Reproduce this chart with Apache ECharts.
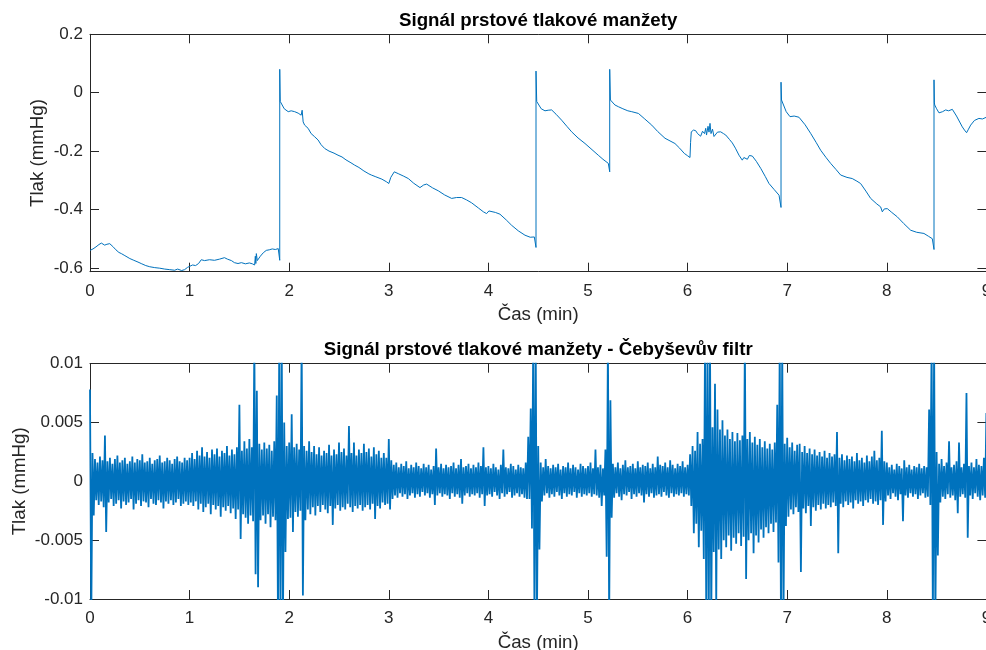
<!DOCTYPE html>
<html>
<head>
<meta charset="utf-8">
<script src="https://cdn.jsdelivr.net/npm/echarts@6/dist/echarts.min.js"></script>
<style>
html,body{margin:0;padding:0;background:#fff;}
#chart{width:986px;height:650px;}
</style>
</head>
<body>
<div id="chart"></div>
<script>
// ---------- Top plot: raw finger cuff pressure signal ----------
const topTime = [0,0.03,0.06,0.09,0.114,0.13,0.147,0.17,0.198,0.23,0.26,0.29,0.315,0.35,0.40,0.44,0.482,0.52,0.56,0.60,0.65,0.70,0.75,0.80,0.85,0.88,0.92,0.95,0.98,1.0,1.03,1.06,1.09,1.117,1.15,1.20,1.25,1.30,1.35,1.38,1.42,1.45,1.486,1.52,1.56,1.60,1.63,1.653,1.66,1.665,1.67,1.68,1.69,1.71,1.74,1.77,1.80,1.83,1.86,1.89,1.905,1.905,1.91,1.915,1.95,1.99,2.02,2.055,2.09,2.12,2.13,2.14,2.155,2.19,2.22,2.256,2.29,2.32,2.356,2.40,2.45,2.49,2.53,2.57,2.62,2.657,2.70,2.75,2.80,2.825,2.87,2.93,2.976,3.0,3.02,3.055,3.10,3.15,3.196,3.25,3.313,3.35,3.38,3.44,3.497,3.56,3.631,3.68,3.731,3.78,3.831,3.90,3.95,3.982,4.005,4.025,4.07,4.116,4.18,4.233,4.30,4.367,4.42,4.461,4.478,4.478,4.485,4.491,4.53,4.568,4.60,4.635,4.68,4.735,4.79,4.836,4.90,4.970,5.03,5.103,5.15,5.204,5.218,5.218,5.225,5.231,5.27,5.305,5.35,5.40,5.439,5.506,5.57,5.640,5.70,5.773,5.873,5.92,5.967,6.00,6.024,6.03,6.037,6.06,6.081,6.10,6.131,6.15,6.17,6.182,6.19,6.205,6.215,6.225,6.235,6.25,6.265,6.282,6.30,6.332,6.36,6.383,6.42,6.449,6.48,6.516,6.549,6.565,6.583,6.60,6.62,6.650,6.69,6.734,6.78,6.817,6.87,6.918,6.938,6.938,6.943,6.948,6.99,7.028,7.07,7.118,7.18,7.235,7.29,7.336,7.39,7.436,7.49,7.537,7.60,7.653,7.70,7.737,7.79,7.838,7.90,7.938,7.955,7.975,8.005,8.05,8.105,8.17,8.240,8.30,8.373,8.42,8.457,8.474,8.474,8.478,8.481,8.50,8.524,8.56,8.591,8.62,8.658,8.70,8.758,8.78,8.801,8.82,8.842,8.88,8.925,8.96,9.0];
const topValue = [-0.540,-0.535,-0.528,-0.520,-0.515,-0.519,-0.522,-0.519,-0.517,-0.527,-0.538,-0.547,-0.551,-0.558,-0.568,-0.574,-0.580,-0.586,-0.592,-0.596,-0.599,-0.601,-0.604,-0.606,-0.608,-0.604,-0.609,-0.606,-0.598,-0.594,-0.590,-0.592,-0.585,-0.572,-0.575,-0.572,-0.574,-0.570,-0.565,-0.570,-0.575,-0.582,-0.585,-0.582,-0.586,-0.583,-0.586,-0.590,-0.560,-0.585,-0.551,-0.575,-0.580,-0.560,-0.548,-0.540,-0.538,-0.535,-0.537,-0.534,-0.574,0.080,-0.030,-0.036,-0.055,-0.065,-0.062,-0.065,-0.070,-0.077,-0.060,-0.100,-0.111,-0.122,-0.140,-0.151,-0.162,-0.178,-0.191,-0.200,-0.207,-0.214,-0.220,-0.230,-0.240,-0.248,-0.256,-0.268,-0.278,-0.282,-0.288,-0.296,-0.305,-0.311,-0.290,-0.271,-0.278,-0.286,-0.294,-0.310,-0.325,-0.316,-0.313,-0.326,-0.336,-0.350,-0.362,-0.359,-0.359,-0.367,-0.377,-0.395,-0.408,-0.414,-0.405,-0.402,-0.410,-0.416,-0.436,-0.454,-0.473,-0.488,-0.495,-0.494,-0.530,0.074,-0.030,-0.036,-0.055,-0.062,-0.060,-0.059,-0.074,-0.094,-0.116,-0.134,-0.155,-0.174,-0.192,-0.214,-0.228,-0.242,-0.271,0.080,-0.025,-0.031,-0.042,-0.048,-0.055,-0.062,-0.065,-0.071,-0.090,-0.111,-0.133,-0.156,-0.174,-0.190,-0.208,-0.216,-0.222,-0.170,-0.134,-0.128,-0.130,-0.140,-0.149,-0.132,-0.140,-0.122,-0.145,-0.115,-0.135,-0.105,-0.140,-0.125,-0.150,-0.151,-0.135,-0.134,-0.140,-0.145,-0.160,-0.172,-0.190,-0.214,-0.231,-0.222,-0.220,-0.228,-0.215,-0.217,-0.235,-0.259,-0.287,-0.311,-0.332,-0.351,-0.393,0.036,-0.025,-0.031,-0.065,-0.082,-0.080,-0.084,-0.110,-0.139,-0.170,-0.197,-0.222,-0.242,-0.263,-0.282,-0.290,-0.294,-0.303,-0.311,-0.337,-0.362,-0.381,-0.391,-0.408,-0.398,-0.397,-0.410,-0.425,-0.448,-0.471,-0.478,-0.482,-0.492,-0.500,-0.537,0.044,-0.035,-0.042,-0.055,-0.069,-0.065,-0.059,-0.062,-0.057,-0.080,-0.117,-0.128,-0.137,-0.125,-0.111,-0.095,-0.088,-0.090,-0.084];
const topYTicks = [-0.6, -0.4, -0.2, 0, 0.2];

// ---------- Bottom plot: Chebyshev filtered signal ----------
// envelope of the filtered signal read per 0.025 min bin, in units of 0.001 mmHg
const filtStepMin = 0.025;
const filtUnit = 0.001;
const filtHigh = [
 7.8,2.4,1.9,1.6,2.1,1.8,3.9,1.7,2.0,1.5, 1.9,2.2,1.6,1.8,2.0,1.5,1.7,2.1,1.6,1.9, 1.8,2.3,1.6,1.7,2.0,1.5,1.8,1.9,2.2,1.6, 1.7,2.0,1.8,1.5,1.9,2.1,1.7,1.6,2.0,1.8,
 2.0,2.4,1.9,2.6,2.2,2.9,2.1,2.5,2.0,2.7, 2.3,2.8,2.1,2.6,2.4,3.0,2.2,2.7,2.3,2.9, 6.5,2.6,3.4,2.8,3.6,2.9,12,7.7,3.2,2.7, 3.3,2.8,3.1,2.6,3.4,7.3,12,12,5.0,3.0,
 3.3,5.7,2.9,3.2,2.7,12,3.0,2.6,3.4,2.5, 3.0,2.3,2.9,2.2,2.6,2.4,3.1,2.2,2.7,2.3, 3.3,2.5,2.8,2.2,4.7,2.4,3.3,2.2,2.7,2.4, 3.2,2.5,2.8,2.1,2.9,2.3,2.6,2.0,2.4,2.0,
 3.6,1.8,1.4,1.6,1.2,1.5,1.3,1.7,1.1,1.4, 1.2,1.6,1.3,1.1,1.5,1.2,1.4,1.0,1.3,2.8, 1.2,1.5,1.1,1.4,1.2,1.3,1.6,1.1,1.4,1.9, 1.2,1.3,1.5,1.1,1.4,1.2,1.6,1.3,2.9,1.2,
 1.3,1.1,1.5,1.2,1.0,1.4,2.7,1.2,1.1,1.5, 1.3,1.0,1.4,1.2,1.1,1.6,3.8,6.2,12,12, 3.0,1.6,1.2,1.9,1.3,1.1,1.4,1.2,1.5,1.0, 1.3,1.2,1.6,1.1,1.4,1.2,1.0,1.5,1.3,1.1,
 1.3,1.6,1.1,2.7,1.2,1.4,1.1,2.7,12,6.9, 1.5,1.2,1.6,1.1,1.4,1.8,1.2,1.3,1.5,1.1, 1.7,1.2,1.4,1.3,1.6,1.1,1.5,1.2,2.1,1.4, 1.3,1.6,1.2,1.8,1.4,1.1,1.5,1.3,1.7,1.2,
 1.4,2.3,3.0,2.6,4.2,3.2,3.6,12,12,12, 4.6,8.3,6.1,4.4,5.2,3.9,4.4,3.6,4.2,3.4, 4.1,3.5,3.9,12,3.6,4.2,3.3,3.8,3.1,3.6, 2.9,3.4,2.8,3.2,2.7,3.3,6.5,12,12,3.2,
 3.7,2.9,3.3,2.6,3.1,3.2,2.5,3.0,2.4,2.8, 2.3,2.7,2.2,2.5,2.1,2.6,2.0,2.4,2.1,2.3, 4.2,2.0,2.3,1.8,2.2,1.9,2.1,1.7,2.4,1.8, 2.0,1.6,2.2,1.7,2.1,2.6,1.8,2.0,4.3,1.7,
 1.6,1.2,1.4,1.0,1.5,1.3,1.1,1.8,1.2,1.4, 1.0,1.3,1.2,1.5,1.1,1.3,1.2,6.1,12,12, 2.5,1.5,1.9,1.3,1.6,3.4,1.2,1.4,1.7,3.3, 1.2,1.5,7.5,1.3,1.6,1.2,1.9,1.4,1.3,2.0,
 5.8
];
const filtLow = [
 -12,-2.9,-1.6,-2.0,-1.7,-2.2,-4.3,-1.8,-1.5,-2.1, -1.9,-1.6,-2.3,-1.7,-2.0,-1.8,-1.5,-2.4,-1.9,-1.6, -2.1,-1.7,-1.8,-2.2,-1.5,-1.9,-2.0,-1.6,-1.8,-2.3, -1.7,-1.9,-1.6,-2.0,-1.8,-1.5,-2.1,-1.9,-1.7,-2.0,
 -1.8,-2.1,-1.7,-2.4,-1.9,-2.6,-2.2,-1.9,-2.8,-2.0, -2.4,-2.1,-3.0,-2.2,-2.5,-2.1,-2.7,-2.3,-3.2,-2.4, -4.9,-2.8,-3.1,-3.6,-2.9,-3.4,-7.9,-9.0,-3.3,-2.9, -3.6,-2.8,-3.9,-3.0,-3.3,-12,-12,-12,-6.0,-3.2,
 -3.1,-4.3,-2.6,-3.0,-2.5,-9.7,-3.3,-2.4,-2.8,-2.2, -2.9,-2.1,-2.6,-2.0,-2.4,-2.7,-2.1,-3.7,-2.3,-2.0, -2.5,-2.2,-2.4,-1.9,-2.2,-2.6,-2.1,-2.3,-2.0,-2.5, -2.2,-2.0,-2.4,-1.9,-3.2,-2.1,-2.3,-1.8,-2.0,-1.9,
 -2.4,-1.5,-1.2,-1.4,-1.0,-1.3,-1.1,-1.5,-1.2,-1.0, -1.4,-1.1,-1.3,-0.9,-1.2,-1.0,-1.4,-1.1,-2.0,-1.2, -1.0,-1.3,-1.1,-1.2,-1.5,-1.0,-1.3,-1.1,-1.4,-1.9, -1.2,-1.0,-1.3,-1.1,-1.2,-1.0,-1.4,-1.1,-2.1,-1.2,
 -1.1,-1.3,-0.9,-1.2,-1.5,-1.0,-1.3,-1.1,-0.9,-1.4, -1.2,-1.0,-1.3,-1.1,-1.4,-1.5,-1.5,-4.0,-12,-12, -5.8,-1.7,-1.2,-1.0,-1.4,-1.1,-1.3,-0.9,-1.2,-1.5, -1.0,-1.3,-1.1,-1.2,-0.9,-1.4,-1.0,-1.3,-1.1,-1.2,
 -1.0,-1.3,-1.1,-1.2,-1.4,-2.1,-1.2,-6.4,-12,-3.1, -1.4,-1.0,-1.3,-1.6,-1.1,-1.2,-0.9,-1.5,-1.1,-1.3, -1.0,-1.2,-1.8,-1.1,-1.3,-1.0,-1.4,-1.2,-1.1,-1.3, -0.9,-1.2,-1.4,-1.0,-1.3,-1.1,-1.2,-1.0,-1.3,-1.1,
 -1.2,-2.1,-4.4,-3.6,-5.6,-4.2,-6.6,-12,-12,-12, -6.0,-10.5,-5.8,-6.6,-5.0,-5.6,-4.6,-5.9,-4.8,-5.3, -4.4,-5.5,-4.7,-8.3,-5.0,-4.4,-6.1,-4.6,-5.2,-4.1, -4.8,-3.9,-4.4,-3.6,-4.3,-3.5,-6.9,-12,-12,-3.8,
 -3.0,-2.4,-2.8,-2.2,-2.6,-7.7,-2.3,-2.7,-2.1,-3.8, -2.2,-2.5,-2.0,-2.4,-1.9,-2.3,-2.0,-2.2,-1.8,-2.1, -6.1,-1.9,-2.2,-1.7,-2.0,-1.8,-2.3,-1.6,-1.9,-1.7, -2.1,-1.6,-1.8,-1.5,-1.9,-1.7,-2.0,-1.6,-3.7,-1.7,
 -1.2,-1.5,-1.0,-1.3,-1.6,-1.1,-3.4,-1.2,-1.4,-1.0, -1.3,-1.1,-1.5,-1.2,-1.0,-1.4,-1.3,-2.0,-12,-12, -6.3,-1.8,-1.3,-1.5,-1.1,-1.4,-1.2,-1.6,-2.7,-1.3, -1.1,-1.4,-4.8,-1.2,-1.5,-1.0,-1.3,-1.6,-1.2,-1.4,
 -3.8
];
const bottomYTicks = [-0.01, -0.005, 0, 0.005, 0.01];
const xTicks = [0,1,2,3,4,5,6,7,8,9];

const titles = ['Signál prstové tlakové manžety', 'Signál prstové tlakové manžety - Čebyševův filtr'];
const xName = 'Čas (min)';
const yName = 'Tlak (mmHg)';

// ---------- build ----------
const FONT = '"Liberation Sans", Arial, Helvetica, sans-serif';
const AX = '#262626';
const LINE = '#0072BD';

const topData = topTime.map((t, i) => [t, topValue[i]]);
const bottomData = [];
for (let i = 0; i < filtHigh.length; i++) {
  const t = i * filtStepMin;
  bottomData.push([t, filtHigh[i] * filtUnit]);
  if (i < filtLow.length) bottomData.push([t + filtStepMin / 2, filtLow[i] * filtUnit]);
}

const grids = [
  {left: 90, top: 34.3, width: 896.4, height: 237.4, outerBoundsMode: 'none', containLabel: false},
  {left: 90, top: 363.7, width: 896.4, height: 235.3, outerBoundsMode: 'none', containLabel: false}
];

function xAx(g, pos) {
  const main = pos === 'bottom';
  return {
    gridIndex: g, type: 'value', position: pos, min: xTicks[0], max: xTicks[xTicks.length - 1], interval: 1,
    name: main ? xName : '', nameLocation: 'middle', nameGap: 34, nameMoveOverlap: false,
    nameTextStyle: {fontFamily: FONT, fontSize: 18.7, color: AX, verticalAlign: 'top'},
    axisLine: {show: true, onZero: false, lineStyle: {color: AX, width: 1}},
    axisTick: {show: true, inside: true, length: 9, lineStyle: {color: AX, width: 1}},
    axisLabel: {show: main, margin: 11, fontFamily: FONT, fontSize: 17, color: AX},
    splitLine: {show: false}
  };
}
function yAx(g, pos, min, max, ticks, nameGap) {
  const main = pos === 'left';
  return {
    gridIndex: g, type: 'value', position: pos, min: min, max: max,
    name: main ? yName : '', nameLocation: 'middle', nameGap: nameGap, nameRotate: 90, nameMoveOverlap: false,
    nameTextStyle: {fontFamily: FONT, fontSize: 18.7, color: AX},
    axisLine: {show: true, onZero: false, lineStyle: {color: AX, width: 1}},
    axisTick: {show: true, inside: true, length: 9, customValues: ticks, lineStyle: {color: AX, width: 1}},
    axisLabel: {show: main, margin: 7, customValues: ticks, fontFamily: FONT, fontSize: 17, color: AX},
    splitLine: {show: false}
  };
}

const option = {
  animation: false,
  backgroundColor: '#ffffff',
  title: [
    {text: titles[0], left: 538.2, top: 11, textAlign: 'center', padding: 0,
     textStyle: {fontFamily: FONT, fontSize: 18.7, fontWeight: 'bold', color: '#000'}},
    {text: titles[1], left: 538.2, top: 340, textAlign: 'center', padding: 0,
     textStyle: {fontFamily: FONT, fontSize: 18.7, fontWeight: 'bold', color: '#000'}}
  ],
  grid: grids,
  xAxis: [xAx(0, 'bottom'), xAx(0, 'top'), xAx(1, 'bottom'), xAx(1, 'top')],
  yAxis: [
    yAx(0, 'left', -0.613, 0.2, topYTicks, 43),
    yAx(0, 'right', -0.613, 0.2, topYTicks, 0),
    yAx(1, 'left', bottomYTicks[0], bottomYTicks[bottomYTicks.length - 1], bottomYTicks, 61),
    yAx(1, 'right', bottomYTicks[0], bottomYTicks[bottomYTicks.length - 1], bottomYTicks, 0)
  ],
  series: [
    {type: 'line', xAxisIndex: 0, yAxisIndex: 0, data: topData, showSymbol: false, symbol: 'none',
     lineStyle: {color: LINE, width: 1}, itemStyle: {color: LINE}, clip: true, silent: true},
    {type: 'line', xAxisIndex: 2, yAxisIndex: 2, data: bottomData, showSymbol: false, symbol: 'none',
     lineStyle: {color: LINE, width: 1.8}, itemStyle: {color: LINE}, clip: true, silent: true}
  ]
};

const chart = echarts.init(document.getElementById('chart'), null, {renderer: 'canvas'});
chart.setOption(option);
</script>
</body>
</html>
